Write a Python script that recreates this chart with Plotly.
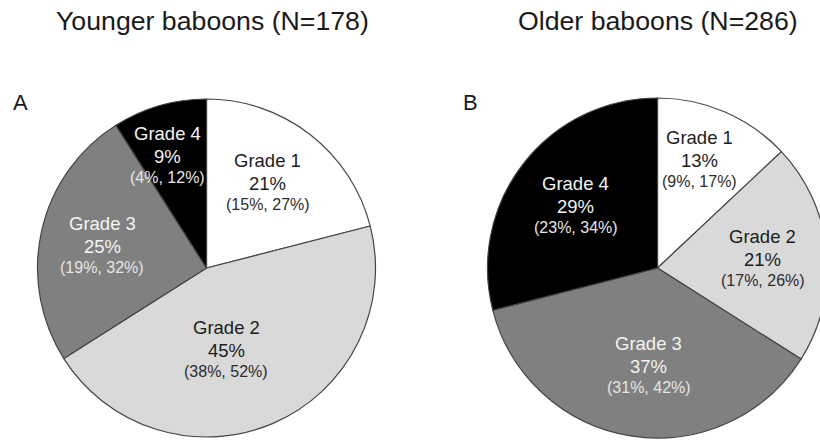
import math
import plotly.graph_objects as go

# Grade distribution (percent) with 95% confidence limits
grades = ["Grade 1", "Grade 2", "Grade 3", "Grade 4"]

younger_n = 178
younger_pct = [21, 45, 25, 9]
younger_ci_low = [15, 38, 19, 4]
younger_ci_high = [27, 52, 32, 12]

older_n = 286
older_pct = [13, 21, 37, 29]
older_ci_low = [9, 17, 31, 23]
older_ci_high = [17, 26, 42, 34]

# Canvas and styling
W, H = 830, 441
FONT = "Liberation Sans, Arial, Helvetica, sans-serif"
slice_colors = ["#ffffff", "#d9d9d9", "#808080", "#000000"]
name_colors = ["#1c1c1c", "#1c1c1c", "#f4f4f4", "#f4f4f4"]
ci_colors = ["#2c2c2c", "#2c2c2c", "#e6e6e6", "#e6e6e6"]

panels = [
    dict(letter="A", title=f"Younger baboons (N={younger_n})",
         pct=younger_pct, lo=younger_ci_low, hi=younger_ci_high,
         cx=206.5, cy=268, r=169, title_x=212.5, letter_x=20,
         label_radius=[0.62, 0.50, 0.63, 0.70], label_turn=[-2, 10, -1, -3]),
    dict(letter="B", title=f"Older baboons (N={older_n})",
         pct=older_pct, lo=older_ci_low, hi=older_ci_high,
         cx=657.5, cy=268, r=170, title_x=657.5, letter_x=470,
         label_radius=[0.68, 0.62, 0.58, 0.60], label_turn=[-2, 1, -4, -1]),
]


def px(x, y):
    return x / W, 1 - y / H


fig = go.Figure()
annotations = []

for p in panels:
    cx, cy, r = p["cx"], p["cy"], p["r"]
    fig.add_trace(go.Pie(
        labels=grades,
        values=p["pct"],
        sort=False,
        direction="clockwise",
        rotation=0,
        textinfo="none",
        hoverinfo="label+percent",
        marker=dict(colors=slice_colors, line=dict(color="#444444", width=1.2)),
        domain=dict(x=[(cx - r) / W, (cx + r) / W],
                    y=[(H - cy - r) / H, (H - cy + r) / H]),
        showlegend=False,
    ))

    # slice labels placed around each slice's mid-angle
    total = sum(p["pct"])
    start = 0.0
    for i, v in enumerate(p["pct"]):
        mid = (start + v / 2) / total * 360 + p["label_turn"][i]
        start += v
        d = p["label_radius"][i] * r
        lx = cx + d * math.sin(math.radians(mid))
        ly = cy - d * math.cos(math.radians(mid))
        lines = [
            (grades[i], ly - 23, 18.5, name_colors[i]),
            (f"{v}%", ly, 18.5, name_colors[i]),
            (f"({p['lo'][i]}%, {p['hi'][i]}%)", ly + 21, 16, ci_colors[i]),
        ]
        for text, yy, size, color in lines:
            x, y = px(lx, yy)
            annotations.append(dict(
                x=x, y=y, xref="paper", yref="paper", text=text,
                showarrow=False, xanchor="center", yanchor="middle",
                font=dict(family=FONT, size=size, color=color),
            ))

    tx, ty = px(p["title_x"], 21)
    annotations.append(dict(
        x=tx, y=ty, xref="paper", yref="paper", text=p["title"],
        showarrow=False, xanchor="center", yanchor="middle",
        font=dict(family=FONT, size=26.7, color="#1a1a1a"),
    ))
    lx, ly = px(p["letter_x"], 103)
    annotations.append(dict(
        x=lx, y=ly, xref="paper", yref="paper", text=p["letter"],
        showarrow=False, xanchor="center", yanchor="middle",
        font=dict(family=FONT, size=22, color="#1a1a1a"),
    ))

fig.update_layout(
    width=W, height=H,
    margin=dict(l=0, r=0, t=0, b=0),
    paper_bgcolor="white",
    plot_bgcolor="white",
    showlegend=False,
    annotations=annotations,
)

fig.write_html(
    "out.html",
    post_script="document.documentElement.style.overflow='hidden';"
                "document.body.style.overflow='hidden';",
)
